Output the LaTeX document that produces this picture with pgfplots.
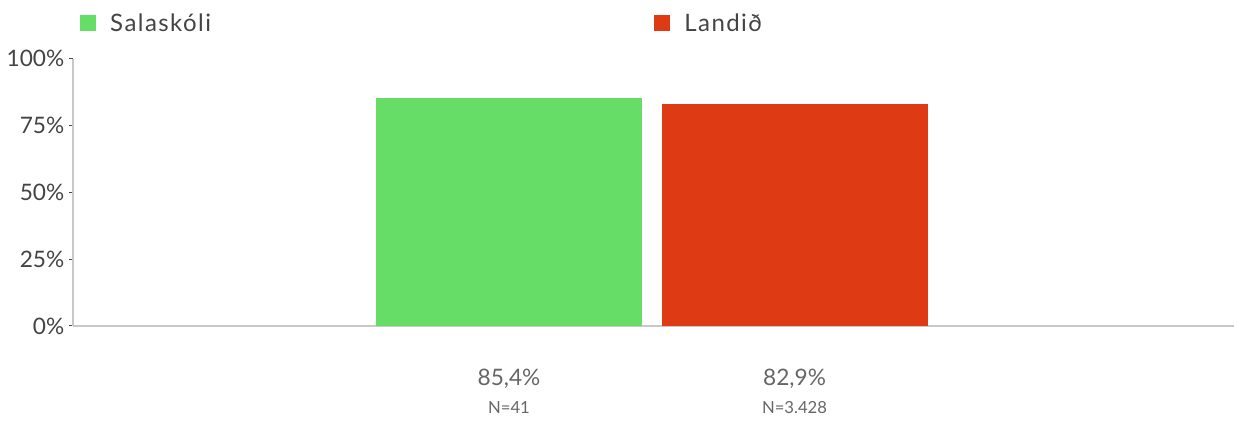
\documentclass[border=0pt]{standalone}
\usepackage{pgfplots}
\pgfplotsset{compat=1.18}
\usepackage{fontspec}
\setmainfont{Lato}
\newfontfamily\legfont[LetterSpace=6]{Lato}
\definecolor{cgreen}{HTML}{66DD66}
\definecolor{cred}{HTML}{DE3A14}
\definecolor{axisgray}{HTML}{C8C8C8}
\definecolor{txt}{HTML}{444444}
\definecolor{sub}{HTML}{666666}
\begin{document}
\begin{tikzpicture}
\path[use as bounding box] (0,0) rectangle (933pt,317.25pt);
\begin{axis}[
  at={(54.75pt,72.75pt)}, anchor=south west,
  scale only axis, width=870.75pt, height=200.5pt,
  xmin=-1.527, xmax=2.539, ymin=0, ymax=100,
  axis lines*=left,
  axis line style={draw=axisgray, line width=1.5pt},
  ytick={0,25,50,75,100},
  yticklabels={0\%,25\%,50\%,75\%,100\%},
  tick align=outside, major tick length=3pt,
  ytick style={draw=txt, line width=0.75pt},
  xtick={0,1}, xtick style={draw=none},
  xticklabels={{\fontsize{17}{20}\selectfont 85,4\%\\[9pt]\fontsize{12.5}{14}\selectfont N=41},{\fontsize{17}{20}\selectfont 82,9\%\\[9pt]\fontsize{12.5}{14}\selectfont N=3.428}},
  xticklabel style={align=center, text=sub, yshift=-26pt},
  yticklabel style={text=txt, font=\fontsize{17}{20}\selectfont},
  legend columns=2,
  legend style={draw=none, fill=none, at={(0.006,1.1316)}, anchor=west, inner sep=0pt,
     font=\fontsize{18}{20}\selectfont\legfont, text=txt,
     nodes={inner xsep=0pt}},
  /tikz/every odd column/.append style={column sep=10.5pt},
  /tikz/every even column/.append style={column sep=332.5pt},
]
\addplot[ybar, bar width=199.5pt, bar shift=0pt, fill=cgreen, draw=none,
  legend image code/.code={\fill[cgreen] (0pt,-6pt) rectangle (12pt,6pt);}]
  coordinates {(0,85.4)};
\addlegendentry{Salaskóli}
\addplot[ybar, bar width=199.5pt, bar shift=0pt, fill=cred, draw=none,
  legend image code/.code={\fill[cred] (0pt,-6pt) rectangle (12pt,6pt);}]
  coordinates {(1,82.9)};
\addlegendentry{Landið}
\end{axis}
\end{tikzpicture}
\end{document}
